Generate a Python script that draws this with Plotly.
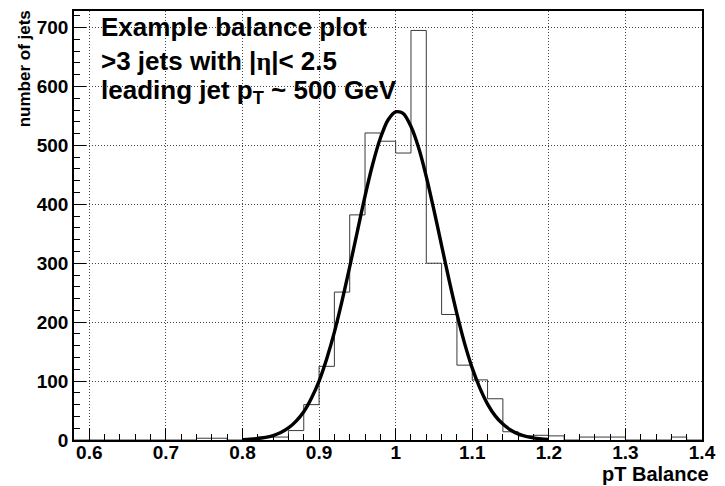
import numpy as np
import plotly.graph_objects as go

# ---- data ----
bin_low = [round(0.58 + 0.02 * i, 2) for i in range(41)]   # lower bin edges, width 0.02
counts = [0, 0, 0, 0, 0, 0, 0, 0, 3, 3,
          0, 2, 5, 5, 16, 60, 125, 251, 382, 521,
          507, 487, 695, 300, 213, 127, 102, 70, 14, 7,
          8, 7, 0, 5, 5, 5, 0, 0, 0, 5,
          0]
bin_width = 0.02

fit_x = [0.80, 0.81, 0.82, 0.83, 0.84, 0.85, 0.86, 0.87, 0.88, 0.89,
         0.90, 0.91, 0.92, 0.93, 0.94, 0.95, 0.96, 0.97, 0.98, 0.99,
         1.00, 1.01, 1.02, 1.03, 1.04, 1.05, 1.06, 1.07, 1.08, 1.09,
         1.10, 1.11, 1.12, 1.13, 1.14, 1.15, 1.16, 1.17, 1.18, 1.19, 1.20]
fit_y = [0.7, 1.4, 2.5, 4.4, 7.6, 12.7, 20.4, 32, 48, 71,
         100, 138, 183, 236, 294, 354, 414, 468, 512, 543,
         557, 554, 532, 496, 447, 390, 330, 270, 214, 164,
         122, 88, 61, 41, 27, 17, 10.3, 6.1, 3.5, 2.0, 1.0]

x_ticks = [0.6, 0.7, 0.8, 0.9, 1.0, 1.1, 1.2, 1.3, 1.4]
x_ticktext = ["0.6", "0.7", "0.8", "0.9", "1", "1.1", "1.2", "1.3", "1.4"]
y_ticks = [0, 100, 200, 300, 400, 500, 600, 700]

text_lines = ["Example balance plot",
              ">3 jets with |<span style=\"font-family:'Liberation Serif'\">η</span>|< 2.5",
              "leading jet p<sub>T</sub> ~ 500 GeV"]
x_title = "pT Balance"
y_title = "number of jets"

# ---- figure ----
edges = bin_low + [round(bin_low[-1] + bin_width, 2)]
step_y = counts + [counts[-1]]

fig = go.Figure()
fig.add_trace(go.Scatter(x=edges, y=step_y, mode="lines", line_shape="hv",
                         line=dict(color="#3a3a3a", width=1), hoverinfo="skip",
                         showlegend=False))
fig.add_trace(go.Scatter(x=fit_x, y=fit_y, mode="lines", line_shape="spline",
                         line=dict(color="black", width=3.4, smoothing=0.8),
                         showlegend=False))

font_family = "Liberation Sans, Arial, sans-serif"
W, H = 725, 486
ml, mr, mt, mb = 74, 13, 9, 46
pw = W - ml - mr
ph = H - mt - mb

fig.update_layout(
    width=W, height=H,
    margin=dict(l=ml, r=mr, t=mt, b=mb),
    paper_bgcolor="white", plot_bgcolor="white",
    font=dict(family=font_family, size=19, color="black", weight="bold"),
    showlegend=False,
)
grid_dash = "1px,2px"
fig.update_xaxes(
    range=[0.58, 1.40], tickvals=x_ticks, ticktext=x_ticktext,
    ticks="inside", ticklen=12, tickwidth=1, tickcolor="black",
    minor=dict(dtick=0.02, tick0=0.58, ticks="inside", ticklen=6, tickcolor="black", showgrid=False),
    showgrid=True, gridcolor="#444444", griddash=grid_dash, gridwidth=1,
    showline=True, linecolor="black", linewidth=1.5, mirror=True,
    zeroline=False, tickfont=dict(size=19, family=font_family, weight="bold"),
    ticklabeloverflow="allow", ticklabelstandoff=-6,
)
fig.update_yaxes(
    range=[0, 728], tickvals=y_ticks,
    ticks="inside", ticklen=12, tickwidth=1, tickcolor="black",
    minor=dict(dtick=20, ticks="inside", ticklen=6, tickcolor="black", showgrid=False),
    showgrid=True, gridcolor="#444444", griddash=grid_dash, gridwidth=1,
    showline=True, linecolor="black", linewidth=1.5, mirror=True,
    zeroline=False, tickfont=dict(size=19, family=font_family, weight="bold"),
    ticklabeloverflow="allow",
)

def px_x(p):
    return (p - ml) / pw

def px_y(p):
    return (mt + ph - p) / ph

line_y = [25, 59, 90]
for t, yy in zip(text_lines, line_y):
    fig.add_annotation(text=t, xref="paper", yref="paper", x=px_x(99), y=px_y(yy),
                       xanchor="left", yanchor="middle", showarrow=False,
                       font=dict(size=26, family=font_family, weight="bold", color="black"))

fig.add_annotation(text=x_title, xref="paper", yref="paper", x=px_x(721), y=px_y(474),
                   xanchor="right", yanchor="middle", showarrow=False,
                   font=dict(size=20, family=font_family, weight="bold", color="black"))
fig.add_annotation(text=y_title, xref="paper", yref="paper", x=px_x(24), y=px_y(6),
                   xanchor="center", yanchor="top", textangle=-90, showarrow=False,
                   font=dict(size=17, family=font_family, weight="bold", color="black"))

fig.write_html("out.html")
